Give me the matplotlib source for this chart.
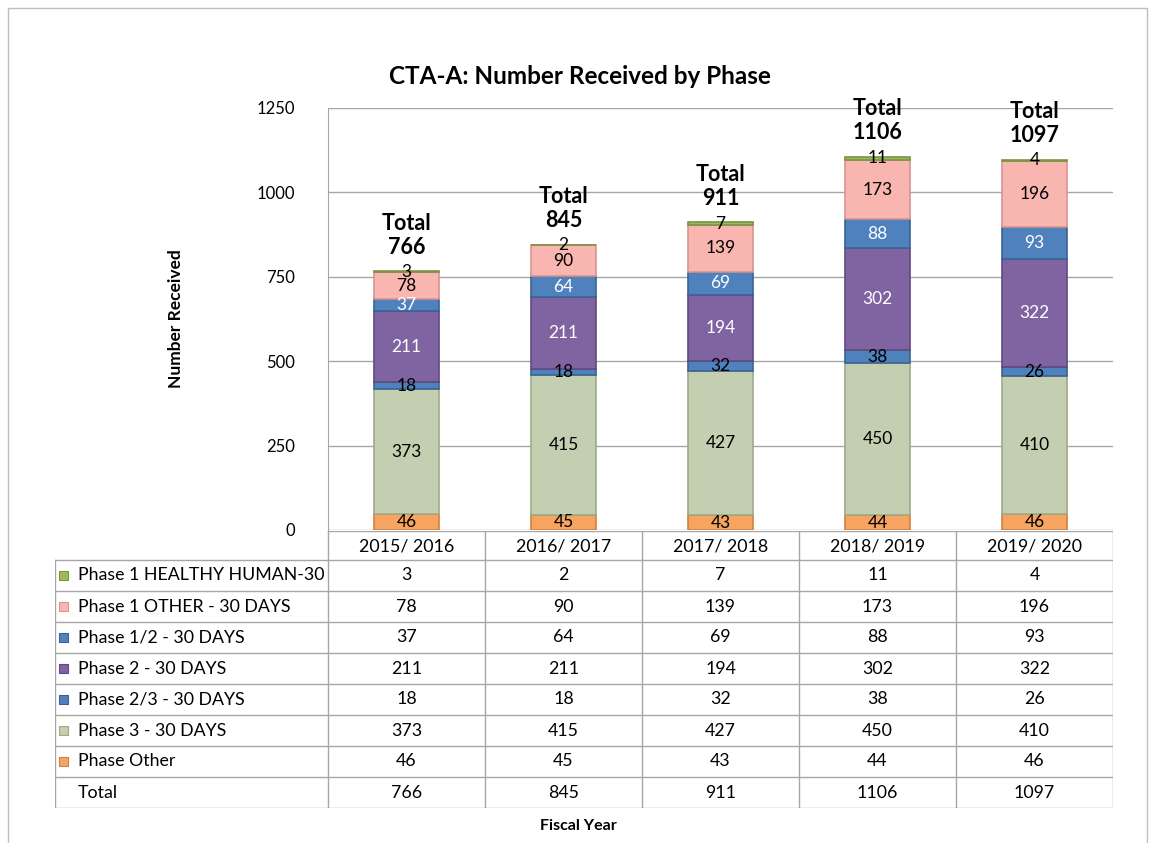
import matplotlib.pyplot as plt
import matplotlib.patches as mpatches
import numpy as np

plt.rcParams['font.family'] = ['Lato', 'DejaVu Sans']

# data
years = ['2015/ 2016', '2016/ 2017', '2017/ 2018', '2018/ 2019', '2019/ 2020']
series = ['Phase 1 HEALTHY HUMAN-30', 'Phase 1 OTHER - 30 DAYS', 'Phase 1/2 - 30 DAYS',
          'Phase 2 - 30 DAYS', 'Phase 2/3 - 30 DAYS', 'Phase 3 - 30 DAYS', 'Phase Other']
healthy = [3, 2, 7, 11, 4]
p1_other = [78, 90, 139, 173, 196]
p1_2 = [37, 64, 69, 88, 93]
p2 = [211, 211, 194, 302, 322]
p2_3 = [18, 18, 32, 38, 26]
p3 = [373, 415, 427, 450, 410]
p_other = [46, 45, 43, 44, 46]
totals = [766, 845, 911, 1106, 1097]

values = [healthy, p1_other, p1_2, p2, p2_3, p3, p_other]
colors = ['#9BBB59', '#F9B5B0', '#4F81BD', '#8064A2', '#4F81BD', '#C3CFB0', '#F7A461']
edges = ['#7A9440', '#D8948F', '#3A6494', '#5F4A80', '#3A6494', '#9EAA88', '#D08040']
label_col = ['black', 'black', 'white', 'white', 'black', 'black', 'black']

W, H = 1155, 843
fig = plt.figure(figsize=(W / 100, H / 100), dpi=100)

# outer frame
fig.patches.append(mpatches.Rectangle((8 / W, -0.1), (1147 - 8) / W, (H - 8) / H + 0.1,
                                      transform=fig.transFigure, fill=False,
                                      edgecolor='#BFBFBF', linewidth=1))

# main chart
ax = fig.add_axes([328 / W, (H - 530) / H, (1113 - 328) / W, (530 - 108) / H])
x = np.arange(len(years))
bottom = np.zeros(len(years))
# stack from bottom: Phase Other first
for vals, col, ec, lc in list(zip(values, colors, edges, label_col))[::-1]:
    vals = np.array(vals)
    ax.bar(x, vals, 0.41, bottom=bottom, color=col, edgecolor=ec, linewidth=1.2, zorder=3)
    for xi, b, v in zip(x, bottom, vals):
        ax.text(xi, b + v / 2, str(v), ha='center', va='center', fontsize=12.5,
                color=lc, zorder=4)
    bottom += vals

for xi, t in zip(x, totals):
    ax.annotate('Total\n' + str(t), (xi, t), xytext=(0, 10), textcoords='offset points',
                ha='center', va='bottom', fontsize=15.5, fontweight='bold',
                linespacing=1.15)

ax.set_xlim(-0.5, len(years) - 0.5)
ax.set_ylim(0, 1250)
ax.set_yticks(np.arange(0, 1251, 250))
ax.tick_params(axis='y', labelsize=12, length=0, pad=24)
ax.set_xticks([])
ax.grid(axis='y', color='#A6A6A6', linewidth=1, zorder=0)
for s in ['top', 'right', 'bottom']:
    ax.spines[s].set_visible(False)
ax.spines['left'].set_color('#A6A6A6')
ax.set_ylabel('Number Received', fontsize=12.5, fontweight='bold', labelpad=52)

fig.text(580 / W, 1 - 76 / H, 'CTA-A: Number Received by Phase', ha='center', va='center',
         fontsize=17.5, fontweight='bold')

# data table
tab = fig.add_axes([55 / W, (H - 808) / H, (1113 - 55) / W, (808 - 531) / H])
tab.set_xlim(55, 1113)
tab.set_ylim(808, 531)
tab.axis('off')
gc = '#A6A6A6'
col_x = [328 + 157 * i for i in range(len(years) + 1)]
row_y = [531] + [560 + 31 * i for i in range(len(series) + 2)]
# header
tab.plot([328, 1113], [531, 531], color=gc, lw=1)
for cx in col_x:
    tab.plot([cx, cx], [531, 808], color=gc, lw=1)
tab.plot([55, 55], [560, 808], color=gc, lw=1)
for ry in row_y[1:]:
    tab.plot([55, 1113], [ry, ry], color=gc, lw=1)
for i, yl in enumerate(years):
    tab.text(col_x[i] + 78.5, 546, yl, ha='center', va='center', fontsize=12.8)
rows = series + ['Total']
row_vals = values + [totals]
for r, (name, vals) in enumerate(zip(rows, row_vals)):
    cy = 560 + 31 * r + 15.5
    if r < len(series):
        tab.add_patch(mpatches.Rectangle((59, cy - 5), 9, 9, facecolor=colors[r],
                                         edgecolor=edges[r], lw=0.8))
    tab.text(78, cy, name, ha='left', va='center', fontsize=12.8)
    for i, v in enumerate(vals):
        tab.text(col_x[i] + 78.5, cy, str(v), ha='center', va='center', fontsize=12.8)

fig.text(578 / W, 1 - 826 / H, 'Fiscal Year', ha='center', va='center',
         fontsize=11.5, fontweight='bold')

plt.savefig('out.png', dpi=100)
